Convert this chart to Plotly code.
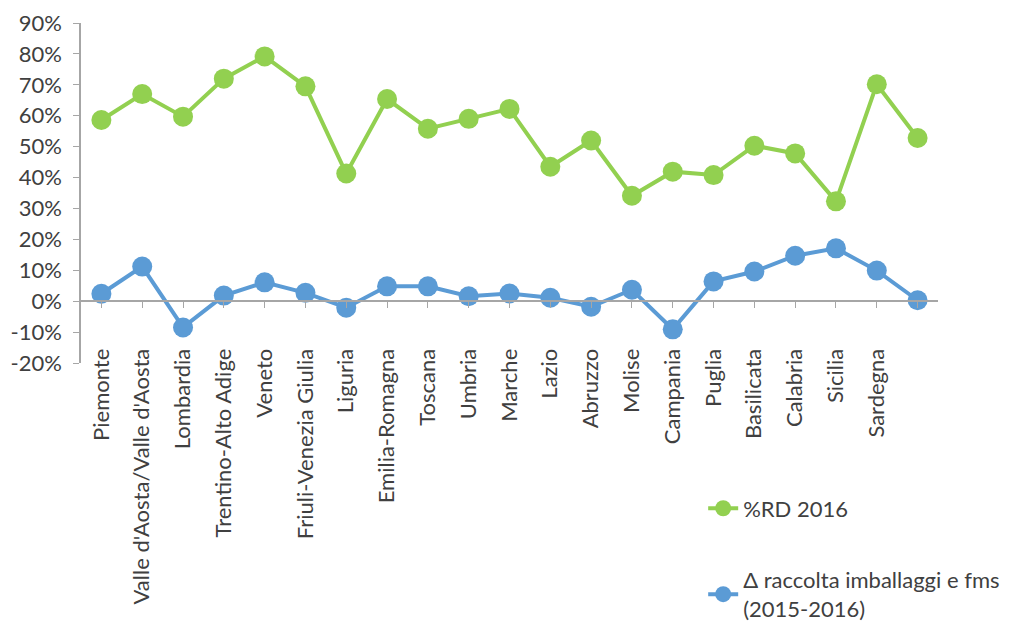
import plotly.graph_objects as go

regions = ["Piemonte", "Valle d'Aosta/Valle d'Aosta", "Lombardia", "Trentino-Alto Adige",
           "Veneto", "Friuli-Venezia Giulia", "Liguria", "Emilia-Romagna", "Toscana",
           "Umbria", "Marche", "Lazio", "Abruzzo", "Molise", "Campania", "Puglia",
           "Basilicata", "Calabria", "Sicilia", "Sardegna", " "]

rd_2016 = [0.586, 0.670, 0.597, 0.720, 0.792, 0.695, 0.413, 0.654, 0.558, 0.590,
           0.622, 0.435, 0.520, 0.341, 0.419, 0.408, 0.503, 0.478, 0.323, 0.702, 0.528]

delta_imballaggi = [0.024, 0.112, -0.085, 0.018, 0.061, 0.027, -0.021, 0.048, 0.048, 0.016,
                    0.025, 0.011, -0.018, 0.037, -0.091, 0.064, 0.096, 0.147, 0.171, 0.099, 0.003]

y_tickvals = [-0.2, -0.1, 0.0, 0.1, 0.2, 0.3, 0.4, 0.5, 0.6, 0.7, 0.8, 0.9]
y_ticktext = ["-20%", "-10%", "0%", "10%", "20%", "30%", "40%", "50%", "60%", "70%", "80%", "90%"]

name_rd = "%RD 2016"
name_delta = "Δ raccolta imballaggi e fms<br>(2015-2016)"

green = "#92D050"
blue = "#5B9BD5"
txt = "#404040"
axis_col = "#A6A6A6"
font_family = "Lato, 'Open Sans', sans-serif"

x_idx = list(range(len(regions)))

fig = go.Figure()
fig.add_trace(go.Scatter(x=x_idx, y=rd_2016, name=name_rd, mode="lines+markers",
                         line=dict(color=green, width=4),
                         marker=dict(color=green, size=20),
                         legendgroup="a"))
fig.add_trace(go.Scatter(x=x_idx, y=delta_imballaggi, name=name_delta, mode="lines+markers",
                         line=dict(color=blue, width=4),
                         marker=dict(color=blue, size=20),
                         legendgroup="b"))

ymin, ymax = -0.2, 0.9
zero_pos = (0 - ymin) / (ymax - ymin)

fig.update_layout(
    width=1007, height=614,
    margin=dict(l=73, r=77, t=15, b=259, autoexpand=False),
    paper_bgcolor="white", plot_bgcolor="white",
    font=dict(family=font_family, size=22, color=txt),
    showlegend=True,
    legend=dict(x=0.726, y=-0.366, xanchor="left", yanchor="top",
                tracegroupgap=40, font=dict(size=22, color=txt),
                bgcolor="rgba(0,0,0,0)"),
    xaxis=dict(
        range=[-0.5, len(regions) - 0.5],
        tickmode="array", tickvals=x_idx, ticktext=regions,
        tickangle=-90,
        anchor="free", position=zero_pos,
        showline=True, linecolor=axis_col, linewidth=1.5,
        ticks="outside", ticklen=6, tickcolor=axis_col, tickson="boundaries",
        showgrid=False, zeroline=False,
        ticklabelstandoff=32,
        ticklabeloverflow="allow",
        tickfont=dict(size=22, color=txt),
    ),
    yaxis=dict(
        range=[ymin, ymax], tickmode="array", tickvals=y_tickvals, ticktext=y_ticktext,
        showline=True, linecolor=axis_col, linewidth=1.5,
        ticks="outside", ticklen=6, tickcolor=axis_col,
        showgrid=False, zeroline=False,
        ticklabelstandoff=7,
        ticklabeloverflow="allow",
        tickfont=dict(size=22, color=txt),
    ),
)

fig.write_html("out.html")
